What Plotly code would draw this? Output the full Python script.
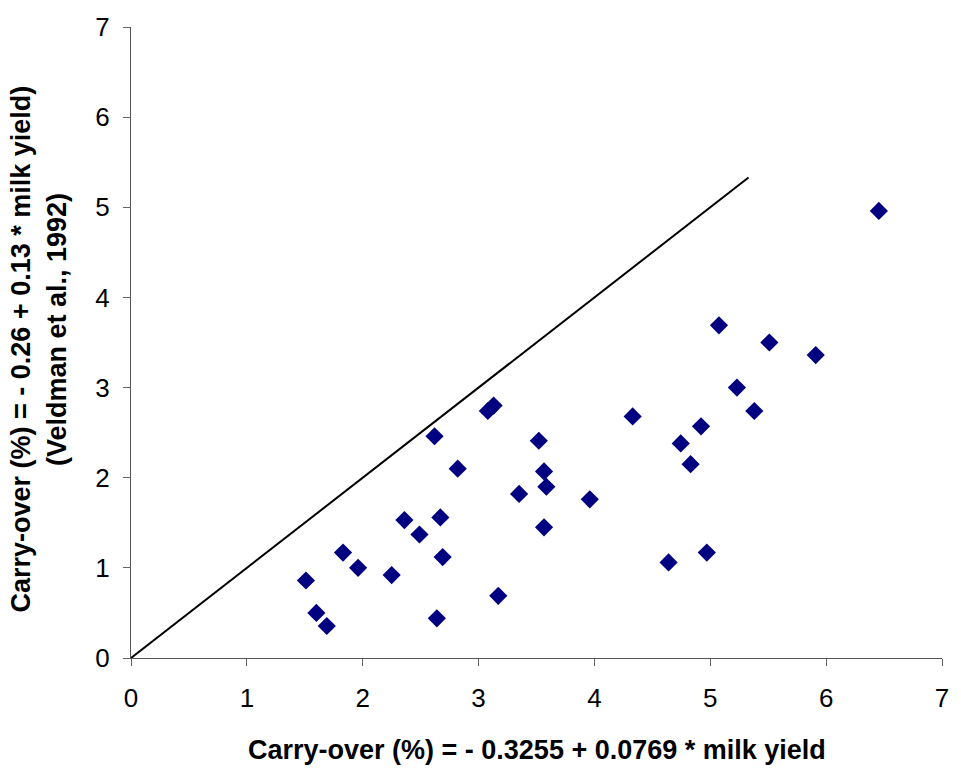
import plotly.graph_objects as go

# Carry-over (%) predicted by the new equation (x) vs. Veldman et al. (1992) equation (y)
carry_over_new = [1.51, 1.60, 1.69, 1.83, 1.96, 2.25, 2.36, 2.49, 2.62, 2.64,
                  2.67, 2.69, 2.82, 3.08, 3.13, 3.17, 3.35, 3.52, 3.565, 3.585,
                  3.565, 3.96, 4.33, 4.64, 4.745, 4.83, 4.92, 4.97, 5.075, 5.23,
                  5.38, 5.51, 5.91, 6.455]
carry_over_veldman = [0.86, 0.50, 0.355, 1.17, 1.00, 0.92, 1.53, 1.37, 2.46, 0.44,
                      1.56, 1.12, 2.10, 2.74, 2.80, 0.69, 1.82, 2.41, 2.07, 1.90,
                      1.45, 1.76, 2.68, 1.06, 2.38, 2.15, 2.57, 1.17, 3.69, 3.00,
                      2.74, 3.50, 3.36, 4.96]

# Line of equality
identity_x = [0, 5.33]
identity_y = [0, 5.33]

axis_ticks = [0, 1, 2, 3, 4, 5, 6, 7]

FONT = "Liberation Sans, Arial, sans-serif"

fig = go.Figure()
fig.add_trace(go.Scatter(
    x=identity_x, y=identity_y, mode="lines",
    line=dict(color="black", width=2), showlegend=False, hoverinfo="skip",
))
fig.add_trace(go.Scatter(
    x=carry_over_new, y=carry_over_veldman, mode="markers",
    marker=dict(symbol="diamond", size=14, color="#000080", line=dict(width=0)),
    showlegend=False,
))

axis_common = dict(
    range=[0, 7], tickvals=axis_ticks, ticks="outside", ticklen=7, tickwidth=1,
    tickcolor="#666666", showline=True, linecolor="#555555", linewidth=1,
    showgrid=False, zeroline=False, tickfont=dict(family=FONT, size=26, color="black"),
)

fig.update_xaxes(ticklabelstandoff=10, **axis_common)
fig.update_yaxes(ticklabelstandoff=8, **axis_common)

fig.update_layout(
    width=961, height=774,
    margin=dict(l=131, r=14, t=21, b=116),
    plot_bgcolor="white", paper_bgcolor="white",
    annotations=[
        dict(text="<b>Carry-over (%) = - 0.3255 + 0.0769 * milk yield</b>",
             xref="paper", yref="paper", x=0.5, y=-0.146, xanchor="center", yanchor="middle",
             showarrow=False, font=dict(family=FONT, size=27, color="black")),
        dict(text="<b>Carry-over (%) = - 0.26 + 0.13 * milk yield)</b>",
             xref="paper", yref="paper", x=-0.136, y=0.49, xanchor="center", yanchor="middle",
             textangle=-90, showarrow=False, font=dict(family=FONT, size=27, color="black")),
        dict(text="<b>(Veldman et al., 1992)</b>",
             xref="paper", yref="paper", x=-0.091, y=0.52, xanchor="center", yanchor="middle",
             textangle=-90, showarrow=False, font=dict(family=FONT, size=27, color="black")),
    ],
)

fig.write_html("out.html")
